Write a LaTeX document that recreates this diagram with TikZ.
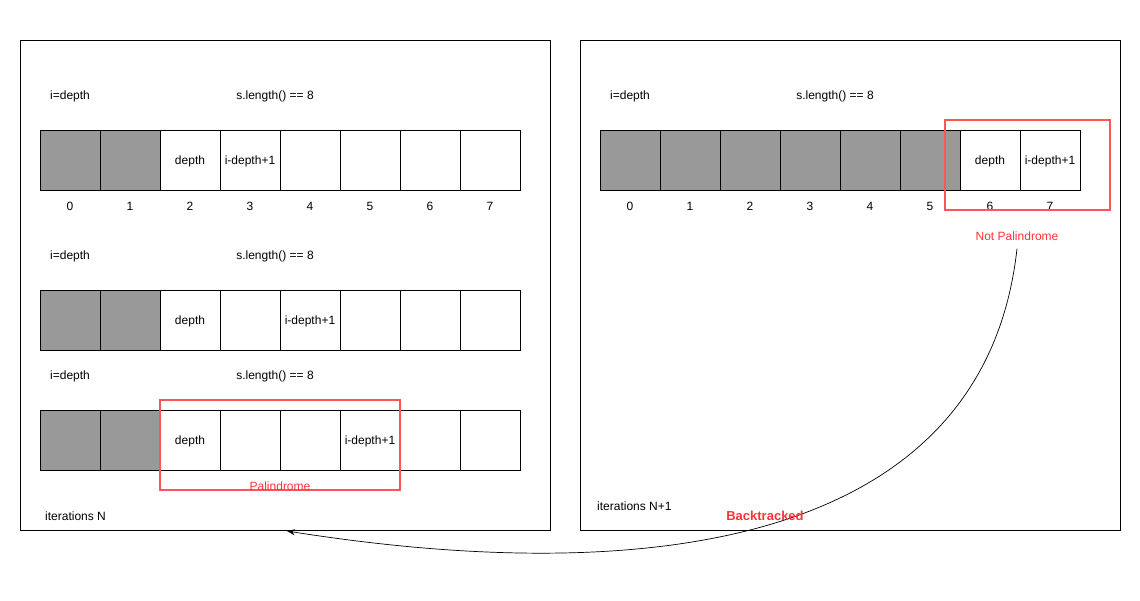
\documentclass[tikz,border=0pt]{standalone}
\usepackage{fontspec}
\setmainfont{Liberation Sans}
\usetikzlibrary{arrows.meta}
\definecolor{cellgray}{HTML}{999999}
\definecolor{redtxt}{HTML}{FF3333}
\definecolor{redbox}{HTML}{FF5555}
\tikzset{
  panel/.style={draw=black, line width=0.8pt, fill=white, inner sep=0pt, outer sep=0pt},
  cell/.style={draw=black, line width=0.8pt, minimum width=60pt, minimum height=60pt, inner sep=0pt, outer sep=0pt, font=\fontsize{12}{14}\selectfont},
  graycell/.style={cell, fill=cellgray},
  lbl/.style={inner sep=0pt, font=\fontsize{12}{14}\selectfont},
  idx/.style={inner sep=0pt, font=\fontsize{12}{14}\selectfont},
  hilite/.style={draw=redbox, line width=1.6pt, inner sep=0pt, outer sep=0pt},
  redlbl/.style={inner sep=0pt, text=redtxt, font=\fontsize{12}{14}\selectfont},
  conn/.style={draw=black, line width=0.7pt, -{Stealth[length=8pt,width=6pt]}}
}
\begin{document}
\begin{tikzpicture}[x=1pt,y=-1pt]
\useasboundingbox (0,0) rectangle (1140,600);
% panels
\node[panel, minimum width=530pt, minimum height=490pt, anchor=north west] (lp) at (20,40) {};
\node[panel, minimum width=540pt, minimum height=490pt, anchor=north west] (rp) at (580,40) {};

% left panel, row 1
\node[lbl, anchor=west] (l1a) at (50,96) {i=depth};
\node[lbl] (l1b) at (275,96) {s.length() == 8};
\foreach \i in {0,...,7} {
  \pgfmathtruncatemacro{\xx}{70+60*\i}
  \ifnum\i<2
    \node[graycell] (r1c\i) at (\xx,160) {};
  \else
    \node[cell] (r1c\i) at (\xx,160) {};
  \fi
  \node[idx] (r1i\i) at (\xx,206) {\i};
}
\node[lbl] (r1t2) at ([yshift=-1.5pt]r1c2) {depth};
\node[lbl] (r1t3) at ([yshift=-1.5pt]r1c3) {i-depth+1};

% left panel, row 2
\node[lbl, anchor=west] (l2a) at (50,256) {i=depth};
\node[lbl] (l2b) at (275,256) {s.length() == 8};
\foreach \i in {0,...,7} {
  \pgfmathtruncatemacro{\xx}{70+60*\i}
  \ifnum\i<2
    \node[graycell] (r2c\i) at (\xx,320) {};
  \else
    \node[cell] (r2c\i) at (\xx,320) {};
  \fi
}
\node[lbl] (r2t2) at ([yshift=-1.5pt]r2c2) {depth};
\node[lbl] (r2t4) at ([yshift=-1.5pt]r2c4) {i-depth+1};

% left panel, row 3
\node[lbl, anchor=west] (l3a) at (50,376) {i=depth};
\node[lbl] (l3b) at (275,376) {s.length() == 8};
\foreach \i in {0,...,7} {
  \pgfmathtruncatemacro{\xx}{70+60*\i}
  \ifnum\i<2
    \node[graycell] (r3c\i) at (\xx,440) {};
  \else
    \node[cell] (r3c\i) at (\xx,440) {};
  \fi
}
\node[lbl] (r3t2) at ([yshift=-1.5pt]r3c2) {depth};
\node[lbl] (r3t5) at ([yshift=-1.5pt]r3c5) {i-depth+1};
\node[hilite, minimum width=240pt, minimum height=90pt, anchor=north west] (pal) at (160,400) {};
\node[redlbl] (palt) at (280,486) {Palindrome};
\node[lbl, anchor=west] (itn) at (45,516) {iterations N};

% right panel
\node[lbl, anchor=west] (ra) at (610,96) {i=depth};
\node[lbl] (rb) at (835,96) {s.length() == 8};
\foreach \i in {0,...,7} {
  \pgfmathtruncatemacro{\xx}{630+60*\i}
  \ifnum\i<6
    \node[graycell] (rc\i) at (\xx,160) {};
  \else
    \node[cell] (rc\i) at (\xx,160) {};
  \fi
  \node[idx] (ri\i) at (\xx,206) {\i};
}
\node[lbl] (rt6) at ([yshift=-1.5pt]rc6) {depth};
\node[lbl] (rt7) at ([yshift=-1.5pt]rc7) {i-depth+1};
\node[hilite, minimum width=165pt, minimum height=90pt, anchor=north west] (npal) at (945,120) {};
\node[redlbl] (npalt) at (1017,236) {Not Palindrome};
\node[lbl, anchor=west] (itn1) at (597,506) {iterations N+1};

% backtrack connector
\coordinate (tgt) at (287,531);
\draw[conn] ([yshift=-8pt]npalt.south) .. controls (985,540) and (660,590) .. (tgt);
\node[inner sep=0pt, text=redtxt, font=\fontsize{13}{15}\selectfont\bfseries] (bt) at (765,516) {Backtracked};
\end{tikzpicture}
\end{document}
